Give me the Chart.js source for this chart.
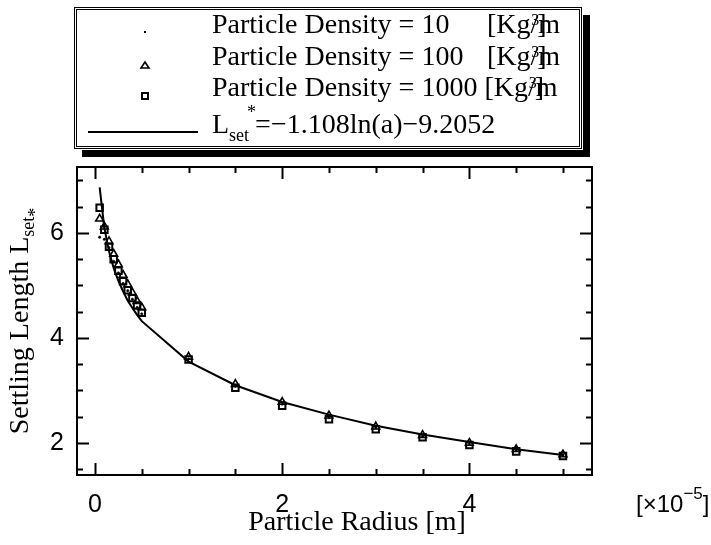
<!DOCTYPE html>
<html><head><meta charset="utf-8">
<script src="https://cdn.jsdelivr.net/npm/chart.js@4.4.0/dist/chart.umd.min.js"></script>
<style>html,body{margin:0;padding:0;background:#fff}#wrap{width:711px;height:545px}</style>
</head><body><div id="wrap"><canvas id="c" width="711" height="545"></canvas></div>
<script>
// ---- data (particle radius in units of 1e-5 m) ----
const radius   = [0.05,0.1,0.15,0.2,0.25,0.3,0.35,0.4,0.45,0.5,1,1.5,2,2.5,3,3.5,4,4.5,5];
const fitLine  = [6.87,6.10,5.65,5.33,5.09,4.89,4.71,4.57,4.44,4.32,3.55,3.10,2.78,2.54,2.33,2.16,2.02,1.88,1.77];
const dens10   = [5.92,5.88,5.72,5.46,5.24,5.04,4.90,4.74,4.58,4.46,3.60,3.08,2.74,2.48,2.29,2.13,1.98,1.86,1.77];
const dens100  = [6.27,6.12,5.84,5.60,5.40,5.20,5.02,4.86,4.70,4.58,3.64,3.12,2.78,2.52,2.31,2.15,2.00,1.88,1.78];
const dens1000 = [6.48,6.06,5.74,5.50,5.28,5.08,4.91,4.76,4.62,4.48,3.59,3.05,2.71,2.45,2.26,2.11,1.96,1.84,1.75];
const seriesNames = ['Particle Density = 10', 'Particle Density = 100', 'Particle Density = 1000'];
const unitText = '[Kg/m';
const fitLabel = ['L', 'set', '*', '=\u22121.108ln(a)\u22129.2052'];
const xMajorTicks = [0, 2, 4];
const xMinorTicks = [0,0.5,1,1.5,2,2.5,3,3.5,4,4.5,5];
const yMajorTicks = [2, 4, 6];
const yMinorTicks = [1.5,2,2.5,3,3.5,4,4.5,5,5.5,6,6.5,7];
const xTitle = 'Particle Radius [m]';
const yTitle = ['Settling Length L', 'set', '*'];
const xMultiplier = ['[\u00d710', '\u22125', ']'];

const SERIF = '"Liberation Serif", "Times New Roman", serif';
const SANS = '"Liberation Sans", Arial, sans-serif';
const pts = ys => radius.map((x, i) => ({x, y: ys[i]}));

const decor = {
  id: 'decor',
  afterDraw(chart) {
    const {ctx, chartArea: a, scales: {x, y}} = chart;
    ctx.save();
    ctx.strokeStyle = '#000'; ctx.fillStyle = '#000';
    // frame
    ctx.lineWidth = 2;
    ctx.strokeRect(a.left, a.top, a.right - a.left, a.bottom - a.top);
    // inward ticks on all sides
    ctx.beginPath();
    xMinorTicks.forEach(v => {
      const p = Math.round(x.getPixelForValue(v)) + 0.5;
      const len = xMajorTicks.includes(v) ? 12 : 6;
      ctx.moveTo(p, a.bottom); ctx.lineTo(p, a.bottom - len);
      ctx.moveTo(p, a.top); ctx.lineTo(p, a.top + len);
    });
    yMinorTicks.forEach(v => {
      const p = Math.round(y.getPixelForValue(v)) + 0.5;
      const len = yMajorTicks.includes(v) ? 12 : 6;
      ctx.moveTo(a.left, p); ctx.lineTo(a.left + len, p);
      ctx.moveTo(a.right, p); ctx.lineTo(a.right - len, p);
    });
    ctx.stroke();

    // x title
    ctx.textAlign = 'center'; ctx.textBaseline = 'alphabetic';
    ctx.font = '28px ' + SERIF;
    ctx.fillText(xTitle, 357, 530);

    // x multiplier
    ctx.textAlign = 'left';
    ctx.font = '24px ' + SANS;
    let mx = 636;
    ctx.fillText(xMultiplier[0], mx, 512); mx += ctx.measureText(xMultiplier[0]).width;
    ctx.font = '17px ' + SANS;
    ctx.fillText(xMultiplier[1], mx, 499); mx += ctx.measureText(xMultiplier[1]).width;
    ctx.font = '24px ' + SANS;
    ctx.fillText(xMultiplier[2], mx, 512);

    // y title (rotated)
    ctx.save();
    ctx.translate(28, 321);
    ctx.rotate(-Math.PI / 2);
    ctx.font = '28px ' + SERIF;
    const w1 = ctx.measureText(yTitle[0]).width;
    ctx.font = '18px ' + SERIF;
    const w2 = ctx.measureText(yTitle[1]).width;
    const w3 = ctx.measureText(yTitle[2]).width;
    let tx = -(w1 + w2 + w3) / 2;
    ctx.font = '28px ' + SERIF;
    ctx.fillText(yTitle[0], tx, 0); tx += w1;
    ctx.font = '18px ' + SERIF;
    ctx.fillText(yTitle[1], tx, 6); tx += w2;
    ctx.fillText(yTitle[2], tx, 13);
    ctx.restore();

    // legend box with shadow
    ctx.fillRect(583, 15, 7, 142);
    ctx.fillRect(82, 150, 508, 7);
    ctx.lineWidth = 1;
    ctx.strokeRect(74.5, 7.5, 507, 141);
    ctx.strokeRect(76.5, 9.5, 503, 137);

    // legend markers
    ctx.fillRect(144, 31, 2, 2);
    ctx.lineWidth = 1.6;
    ctx.beginPath();
    ctx.moveTo(145, 62); ctx.lineTo(149, 68); ctx.lineTo(141, 68); ctx.closePath();
    ctx.stroke();
    ctx.lineWidth = 2;
    ctx.strokeRect(142, 93, 6, 6);

    // legend texts
    const baselines = [33, 65, 96];
    seriesNames.forEach((name, i) => {
      ctx.font = '28px ' + SERIF;
      ctx.fillText(name, 212, baselines[i]);
      let ux = i < 2 ? 487 : 212 + ctx.measureText(name + ' ').width;
      ctx.fillText(unitText.slice(0, 4), ux, baselines[i]);
      ux += ctx.measureText(unitText.slice(0, 4)).width;
      ctx.fillText('m', ux, baselines[i]);
      ctx.fillText(']', ux - 1, baselines[i]);
      ctx.font = '16px ' + SERIF;
      ctx.fillText('3', ux - 7, baselines[i] - 8);
    });

    // fit line legend
    ctx.lineWidth = 2;
    ctx.beginPath(); ctx.moveTo(88, 132); ctx.lineTo(198, 132); ctx.stroke();
    ctx.font = '28px ' + SERIF;
    let lx = 212;
    ctx.fillText(fitLabel[0], lx, 133); lx += ctx.measureText(fitLabel[0]).width;
    ctx.font = '18px ' + SERIF;
    ctx.fillText(fitLabel[1], lx, 141);
    const sw = ctx.measureText(fitLabel[1]).width;
    ctx.fillText(fitLabel[2], lx + sw - 2, 118);
    lx += sw + 6;
    ctx.font = '28px ' + SERIF;
    ctx.fillText(fitLabel[3], lx, 133);
    ctx.restore();
  }
};

new Chart(document.getElementById('c'), {
  type: 'scatter',
  data: {
    datasets: [
      {label: 'fit', data: pts(fitLine), showLine: true, borderColor: '#000', borderWidth: 2,
       pointRadius: 0, tension: 0, order: 1},
      {label: seriesNames[2], data: pts(dens1000), pointStyle: 'rect', pointRadius: 4.6,
       borderColor: '#000', backgroundColor: 'rgba(0,0,0,0)', pointBorderWidth: 2, order: 2},
      {label: seriesNames[1], data: pts(dens100), pointStyle: 'triangle', pointRadius: 4.5,
       borderColor: '#000', backgroundColor: 'rgba(0,0,0,0)', pointBorderWidth: 1.6, order: 3},
      {label: seriesNames[0], data: pts(dens10), pointStyle: 'circle', pointRadius: 1.2,
       borderColor: '#000', backgroundColor: '#000', pointBorderWidth: 0.5, order: 0}
    ]
  },
  options: {
    responsive: false, animation: false, devicePixelRatio: 1,
    layout: {padding: {left: 0, top: 167, right: 119, bottom: 0}},
    plugins: {legend: {display: false}, tooltip: {enabled: false}},
    scales: {
      x: {
        type: 'linear', min: -0.192, max: 5.31,
        afterBuildTicks: s => { s.ticks = xMajorTicks.map(v => ({value: v})); },
        afterFit: s => { s.height = 70; },
        grid: {display: false}, border: {display: false},
        ticks: {color: '#000', font: {family: SANS, size: 25}, padding: 7, maxRotation: 0,
                callback: v => String(v)}
      },
      y: {
        type: 'linear', min: 1.39, max: 7.257,
        afterBuildTicks: s => { s.ticks = yMajorTicks.map(v => ({value: v})); },
        afterFit: s => { s.width = 77; },
        grid: {display: false}, border: {display: false},
        ticks: {color: '#000', font: {family: SANS, size: 25}, padding: 5,
                callback: v => String(v)}
      }
    }
  },
  plugins: [decor]
});
</script>
</body></html>
